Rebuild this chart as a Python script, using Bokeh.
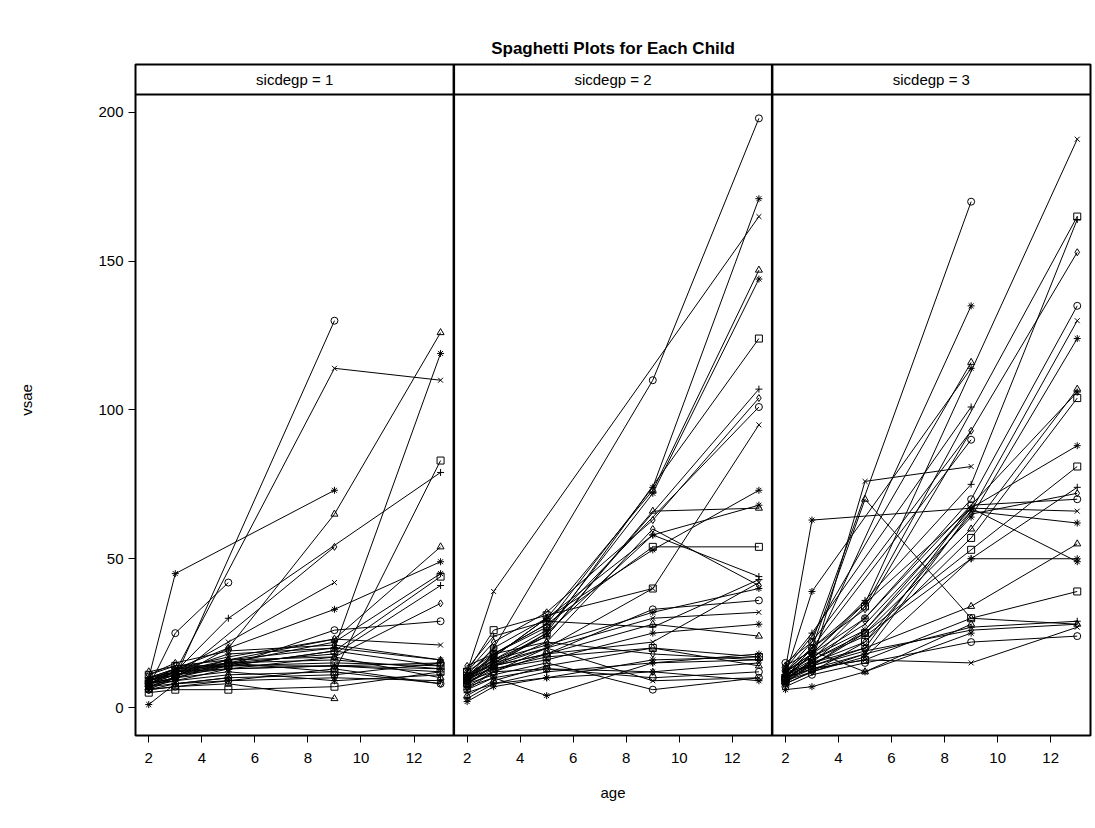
from bokeh.plotting import figure
from bokeh.models import Range1d, FixedTicker, Span
from bokeh.embed import file_html
from bokeh.resources import INLINE
from bokeh.core.properties import value

ages = [2, 3, 5, 9, 13]
panel_labels = ["sicdegp = 1", "sicdegp = 2", "sicdegp = 3"]
x_ticks = [2, 4, 6, 8, 10, 12]
y_ticks = [0, 50, 100, 150, 200]
markers = ["circle", "x", "asterisk", "triangle", "asterisk", "square", "cross", "diamond"]

group1 = [
    [8,10,None,130,None],[10,12,None,114,110],[10,45,None,73,None],[7,10,20,65,126],
    [9,12,18,20,119],[8,11,15,12,83],[9,12,30,None,79],[8,10,None,54,None],
    [7,25,42,None,None],[8,12,22,42,None],[9,13,20,33,49],[8,11,16,23,54],
    [7,10,15,22,45],[9,11,14,19,44],[8,12,15,18,41],[7,9,13,17,35],
    [6,10,14,26,29],[10,13,17,23,21],[8,12,16,20,16],[6,7,8,3,None],
    [1,8,10,None,None],[11,14,14,15,14],[9,11,13,14,12],[8,9,11,12,8],
    [7,8,10,11,15],[10,13,15,16,13],[6,8,9,10,9],[12,14,16,17,10],
    [8,10,12,9,11],[5,6,6,7,12],[9,13,14,19,14],[11,15,19,21,16],
    [6,7,9,13,8],[10,12,13,14,13],[9,12,14,14,15],
]
group2 = [
    [10,20,None,110,198],[12,39,None,None,165],[9,18,28,74,171],[11,17,30,73,147],
    [10,16,26,72,144],[8,14,25,None,124],[9,15,24,None,107],[12,22,32,63,104],
    [10,18,27,None,101],[8,14,20,40,95],[11,20,30,53,73],[9,16,24,66,67],
    [10,15,25,58,68],[12,18,28,54,54],[10,17,30,58,44],[8,14,22,60,41],
    [9,12,18,33,36],[7,12,20,30,32],[8,13,16,25,28],[9,14,18,28,24],
    [6,10,4,15,18],[10,13,17,20,17],[5,8,12,15,16],[7,10,13,12,15],
    [8,11,15,6,10],[11,14,18,22,42],[3,8,10,12,9],[4,9,14,20,14],
    [2,7,10,16,17],[12,26,31,40,None],[13,24,29,27,43],[14,18,22,18,16],
    [6,12,13,10,12],[10,15,20,9,10],[11,16,21,32,40],
]
group3 = [
    [15,22,None,170,None],[12,20,35,None,191],[10,18,None,135,None],[13,24,None,116,None],
    [11,39,None,114,None],[9,16,34,None,165],[10,18,36,75,164],[12,20,33,None,153],
    [8,15,30,70,135],[11,17,28,66,130],[10,14,26,64,124],[9,16,25,60,107],
    [12,18,30,None,106],[10,15,22,57,104],[14,25,None,101,None],[12,22,None,93,None],
    [10,20,None,90,None],[11,15,76,81,None],[13,63,None,67,49],[10,20,70,30,28],
    [12,18,35,67,88],[9,14,25,53,81],[11,16,24,50,74],[8,12,22,65,72],
    [10,15,20,68,70],[12,17,26,67,66],[9,13,18,66,62],[11,14,20,34,55],
    [8,12,17,50,50],[10,13,16,30,39],[9,12,18,27,29],[12,14,19,26,28],
    [7,11,15,22,24],[10,13,16,15,27],[6,7,12,25,None],[14,19,12,28,None],
]
groups = [group1, group2, group3]
panel_width = 12

p = figure(width=1093, height=820, output_backend="svg", toolbar_location=None,
           x_range=Range1d(1.5, 37.5), y_range=Range1d(-9.4, 216.1),
           min_border_left=135, min_border_right=3, min_border_top=64, min_border_bottom=85,
           title="Spaghetti Plots for Each Child")
p.title.align = "center"
p.title.text_font = "Liberation Sans"
p.title.text_font_size = "17px"
p.title.text_font_style = "bold"
p.title.text_color = "black"
p.title.offset = 0
p.title.standoff = 13
p.grid.visible = False
p.outline_line_color = "black"
p.outline_line_width = 2
p.background_fill_color = "white"

xs_all, ys_all, px, py, pm = [], [], [], [], []
for gi, grp in enumerate(groups):
    off = gi * panel_width
    for si, subj in enumerate(grp):
        xx = [a + off for a, v in zip(ages, subj) if v is not None]
        yy = [v for v in subj if v is not None]
        xs_all.append(xx); ys_all.append(yy)
        m = markers[si % len(markers)]
        px += xx; py += yy; pm += [m] * len(xx)

p.multi_line(xs=xs_all, ys=ys_all, line_color="black", line_width=1)
p.scatter(x=px, y=py, marker=pm, size=7, fill_color=None, line_color="black", line_width=1)

p.add_layout(Span(location=206.05, dimension="width", line_color="black", line_width=2))
for k in (1, 2):
    p.add_layout(Span(location=1.5 + k * panel_width, dimension="height", line_color="black", line_width=2.5))
p.text(x=[1.5 + panel_width / 2 + k * panel_width for k in range(3)], y=[211] * 3, text=panel_labels,
       text_align="center", text_baseline="middle", text_font=value("Liberation Sans"),
       text_font_size="15px", text_color="black")

ticks = [t + k * panel_width for k in range(3) for t in x_ticks]
p.xaxis.ticker = FixedTicker(ticks=ticks)
p.xaxis.major_label_overrides = {t + k * panel_width: str(t) for k in range(3) for t in x_ticks}
p.yaxis.ticker = FixedTicker(ticks=y_ticks)
for ax in (p.xaxis, p.yaxis):
    ax.axis_line_color = None
    ax.major_tick_in = 0
    ax.major_tick_out = 7
    ax.major_tick_line_color = "black"
    ax.minor_tick_line_color = None
    ax.major_label_text_font = "Liberation Sans"
    ax.major_label_text_font_size = "15px"
    ax.major_label_text_color = "black"
    ax.axis_label_text_font = "Liberation Sans"
    ax.axis_label_text_font_size = "15px"
    ax.axis_label_text_font_style = "normal"
    ax.axis_label_text_color = "black"
p.xaxis.axis_label = "age"
p.yaxis.axis_label = "vsae"
p.xaxis.major_label_standoff = 10
p.xaxis.axis_label_standoff = 18
p.yaxis.axis_label_standoff = 60

open("out.html", "w").write(file_html(p, INLINE))
